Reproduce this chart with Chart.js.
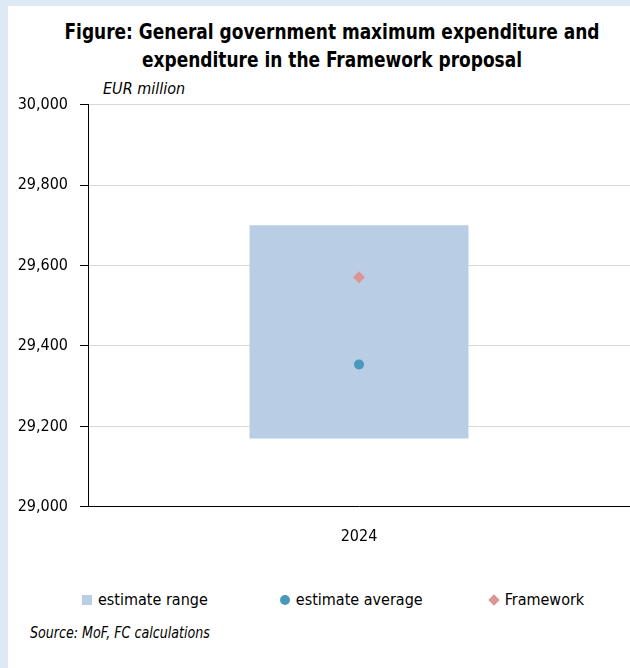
<!DOCTYPE html>
<html>
<head>
<meta charset="utf-8">
<script src="https://cdn.jsdelivr.net/npm/chart.js@4"></script>
<style>
  html, body { margin: 0; padding: 0; }
  body { width: 630px; height: 668px; background: #dde9f5; position: relative; overflow: hidden;
         font-family: "DejaVu Sans Condensed", sans-serif; color: #000; }
  #panel { position: absolute; left: 8px; top: 6px; right: 0; bottom: 0; background: #fff; }
  #title { position: absolute; left: 8px; top: 18px; width: 648px; text-align: center;
           font-weight: bold; font-size: 21px; line-height: 28px;
           transform: scaleX(0.9); transform-origin: 324px 0; }
  #unit { position: absolute; left: 103px; top: 79px; font-style: italic; font-size: 16px; }
  #box { position: absolute; left: 0; top: 83px; width: 636px; height: 483px; }
  #legend { position: absolute; top: 590px; left: 82px; display: flex; font-size: 16px; }
  #legend .item { display: flex; align-items: center; }
  #legend .mk { margin-right: 6px; }
  #source { position: absolute; left: 30px; top: 623px; font-style: italic; font-size: 16px;
            transform: scaleX(0.88); transform-origin: 0 0; }
</style>
</head>
<body>
<div id="panel"></div>
<div id="title">Figure: General government maximum expenditure and<br>expenditure in the Framework proposal</div>
<div id="unit">EUR million</div>
<div id="box"><canvas id="chart"></canvas></div>
<div id="legend"></div>
<div id="source">Source: MoF, FC calculations</div>
<script>
// Expenditure estimates, EUR million
const years = ["2024"];
const rangeLow = [29170];
const rangeHigh = [29700];
const estimateAvg = [29354];
const framework = [29571];
const seriesNames = ["estimate range", "estimate average", "Framework"];
const seriesColors = ["#b9cde5", "#4a98bb", "#da9694"];

const font = "'DejaVu Sans Condensed', sans-serif";

const ctx = document.getElementById("chart").getContext("2d");
new Chart(ctx, {
  type: "bar",
  data: {
    labels: years,
    datasets: [
      {
        type: "line",
        label: seriesNames[2],
        data: framework,
        showLine: false,
        pointStyle: "rectRot",
        pointRadius: 6,
        backgroundColor: seriesColors[2],
        borderColor: seriesColors[2],
        borderWidth: 0
      },
      {
        type: "line",
        label: seriesNames[1],
        data: estimateAvg,
        showLine: false,
        pointStyle: "circle",
        pointRadius: 5,
        backgroundColor: seriesColors[1],
        borderColor: seriesColors[1],
        borderWidth: 0
      },
      {
        label: seriesNames[0],
        data: years.map((y, i) => [rangeLow[i], rangeHigh[i]]),
        backgroundColor: seriesColors[0],
        borderWidth: 0,
        categoryPercentage: 1,
        barPercentage: 0.404
      }
    ]
  },
  options: {
    responsive: true,
    maintainAspectRatio: false,
    animation: false,
    layout: { padding: { top: 18, right: 0, bottom: 0, left: 0 } },
    plugins: {
      legend: { display: false },
      tooltip: { enabled: false }
    },
    scales: {
      x: {
        grid: { display: false, drawTicks: false },
        border: { display: true, color: "#000", width: 1 },
        ticks: { color: "#000", padding: 20, font: { family: font, size: 16 } }
      },
      y: {
        min: 29000,
        max: 30000,
        afterFit: s => { s.width = 88; },
        grid: { color: "#d9d9d9", tickColor: "#000", tickLength: 8 },
        border: { display: true, color: "#000", width: 1 },
        ticks: {
          stepSize: 200,
          color: "#000",
          padding: 12,
          font: { family: font, size: 16 },
          callback: v => v.toLocaleString("en-US")
        }
      }
    }
  }
});

// legend row
const legend = document.getElementById("legend");
const markers = [
  '<span class="mk" style="display:inline-block;width:10px;height:10px;background:' + seriesColors[0] + '"></span>',
  '<span class="mk" style="display:inline-block;width:10px;height:10px;border-radius:50%;background:' + seriesColors[1] + '"></span>',
  '<span class="mk" style="display:inline-block;width:8px;height:8px;margin-left:1px;margin-right:7px;transform:rotate(45deg);background:' + seriesColors[2] + '"></span>'
];
seriesNames.forEach((name, i) => {
  const el = document.createElement("div");
  el.className = "item";
  el.style.marginRight = i === 0 ? "72px" : (i === 1 ? "66px" : "0");
  el.innerHTML = markers[i] + "<span>" + name + "</span>";
  legend.appendChild(el);
});
</script>
</body>
</html>
